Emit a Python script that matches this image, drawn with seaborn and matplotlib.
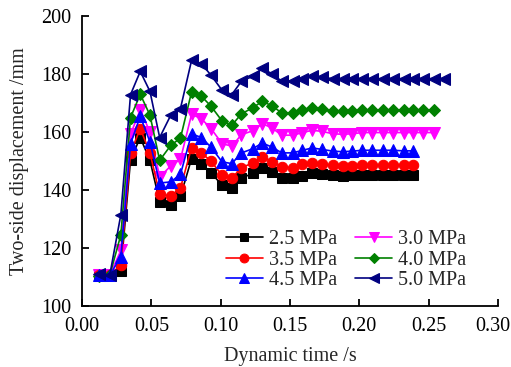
import matplotlib
matplotlib.use("Agg")
import matplotlib.pyplot as plt
import matplotlib.transforms as mtransforms
import seaborn as sns
import numpy as np

# Dynamic time (s)
time = [0.012, 0.020, 0.028, 0.035, 0.042, 0.049, 0.056, 0.064, 0.071, 0.079,
        0.086, 0.093, 0.101, 0.108, 0.115, 0.123, 0.130, 0.137, 0.144, 0.152,
        0.159, 0.166, 0.173, 0.181, 0.188, 0.195, 0.202, 0.209, 0.217, 0.224,
        0.232, 0.239, 0.246, 0.254, 0.261]

mpa_25 = [110.6, 110.6, 112.2, 150.5, 158.1, 150.2, 135.9, 134.7, 137.8, 150.8,
          149.1, 146.0, 141.6, 140.8, 144.1, 145.7, 147.6, 146.1, 144.3, 144.3,
          144.8, 145.7, 145.4, 145.1, 145.0, 145.1, 145.2, 145.3, 145.2, 145.1,
          145.1, 145.1]
mpa_30 = [110.6, 110.6, 119.2, 159.2, 167.7, 160.0, 144.5, 148.3, 150.6, 166.1,
          164.6, 161.2, 156.0, 155.1, 159.1, 160.4, 162.9, 161.4, 158.9, 158.9,
          159.8, 160.6, 160.2, 159.4, 159.2, 159.4, 159.8, 159.8, 159.8, 159.8,
          159.8, 159.8, 159.8, 159.8]
mpa_35 = [110.6, 110.6, 114.2, 152.8, 161.2, 152.8, 138.5, 137.9, 140.7, 154.6,
          152.9, 149.9, 145.1, 144.1, 147.7, 149.3, 151.4, 149.8, 147.9, 147.7,
          148.8, 149.3, 148.9, 148.5, 148.3, 148.4, 148.5, 148.5, 148.5, 148.5,
          148.5, 148.5]
mpa_40 = [110.4, 110.6, 124.5, 165.0, 173.0, 165.8, 150.2, 155.4, 157.9, 173.8,
          172.4, 168.9, 163.8, 162.3, 166.3, 168.3, 170.6, 169.0, 166.6, 166.6,
          167.7, 168.4, 167.9, 167.2, 167.1, 167.2, 167.5, 167.5, 167.5, 167.5,
          167.5, 167.5, 167.5, 167.5]
mpa_45 = [110.6, 110.6, 117.0, 156.0, 165.4, 156.6, 142.4, 142.8, 145.4, 159.4,
          158.1, 154.8, 149.7, 149.1, 152.8, 154.2, 156.2, 154.8, 152.8, 152.8,
          153.7, 154.5, 154.0, 153.4, 153.2, 153.4, 153.7, 153.7, 153.7, 153.7,
          153.5, 153.5]
mpa_50 = [111.2, 110.6, 131.5, 172.9, 180.9, 174.0, 158.1, 165.8, 168.1, 184.7,
          183.6, 179.6, 174.4, 172.9, 177.5, 179.2, 181.9, 180.1, 177.5, 177.5,
          178.4, 179.2, 179.0, 178.3, 178.2, 178.3, 178.4, 178.4, 178.4, 178.4,
          178.4, 178.4, 178.4, 178.4, 178.4]

labels = ["2.5 MPa", "3.0 MPa", "3.5 MPa", "4.0 MPa", "4.5 MPa", "5.0 MPa"]
series = [mpa_25, mpa_30, mpa_35, mpa_40, mpa_45, mpa_50]
colors = ["#000000", "#FF00FF", "#FF0000", "#008000", "#0000FF", "#000080"]
markers = ["s", "v", "o", "D", "^", "<"]
msizes = [6.5, 8, 7.5, 6, 8, 8]

sns.set_style("ticks")
plt.rcParams["font.family"] = ["Liberation Serif", "DejaVu Serif"]

fig = plt.figure(figsize=(5.11, 3.67), dpi=100)
ax = fig.add_axes([0.1605, 0.1662, 0.8141, 0.7902])

for lab, ys, c, m, ms in zip(labels, series, colors, markers, msizes):
    xs = time[:len(ys)]
    sns.lineplot(x=xs, y=ys, ax=ax, color=c, marker=m, markersize=ms,
                 markeredgecolor=c, markerfacecolor=c, linewidth=1.2,
                 label=lab, sort=False, estimator=None)

ax.set_xlim(0, 0.30)
ax.set_ylim(100, 200)
ax.set_xticks([0.00, 0.05, 0.10, 0.15, 0.20, 0.25, 0.30])
ax.set_xticklabels(["0.00", "0.05", "0.10", "0.15", "0.20", "0.25", "0.30"])
ax.set_yticks([100, 120, 140, 160, 180, 200])
ax.tick_params(direction="in", length=5, width=1.3, labelsize=14.5,
               colors="black")
ax.tick_params(axis="x", pad=8)
ax.tick_params(axis="y", pad=7.5)
for s in ["left", "bottom"]:
    ax.spines[s].set_linewidth(1.3)
    ax.spines[s].set_color("black")
for s in ["top", "right"]:
    ax.spines[s].set_visible(False)

# keep the last x tick label inside the canvas
last = ax.get_xticklabels()[-1]
last.set_transform(last.get_transform() +
                   mtransforms.ScaledTranslation(-5 / 100, 0, fig.dpi_scale_trans))

ax.set_xlabel("Dynamic time /s", fontsize=14.5, labelpad=8)
ax.set_ylabel("Two-side displacement /mm", fontsize=14.5, labelpad=9)

h, l = ax.get_legend_handles_labels()
order = [0, 2, 4, 1, 3, 5]
ax.legend([h[i] for i in order], [l[i] for i in order], ncol=2,
          loc="lower left", bbox_to_anchor=(0.345, 0.055), frameon=False,
          fontsize=14.5, borderpad=0, borderaxespad=0, handlelength=1.85,
          handletextpad=0.3, columnspacing=0.9, labelspacing=0.06,
          markerscale=0.85)

fig.savefig("out.png", dpi=100)
